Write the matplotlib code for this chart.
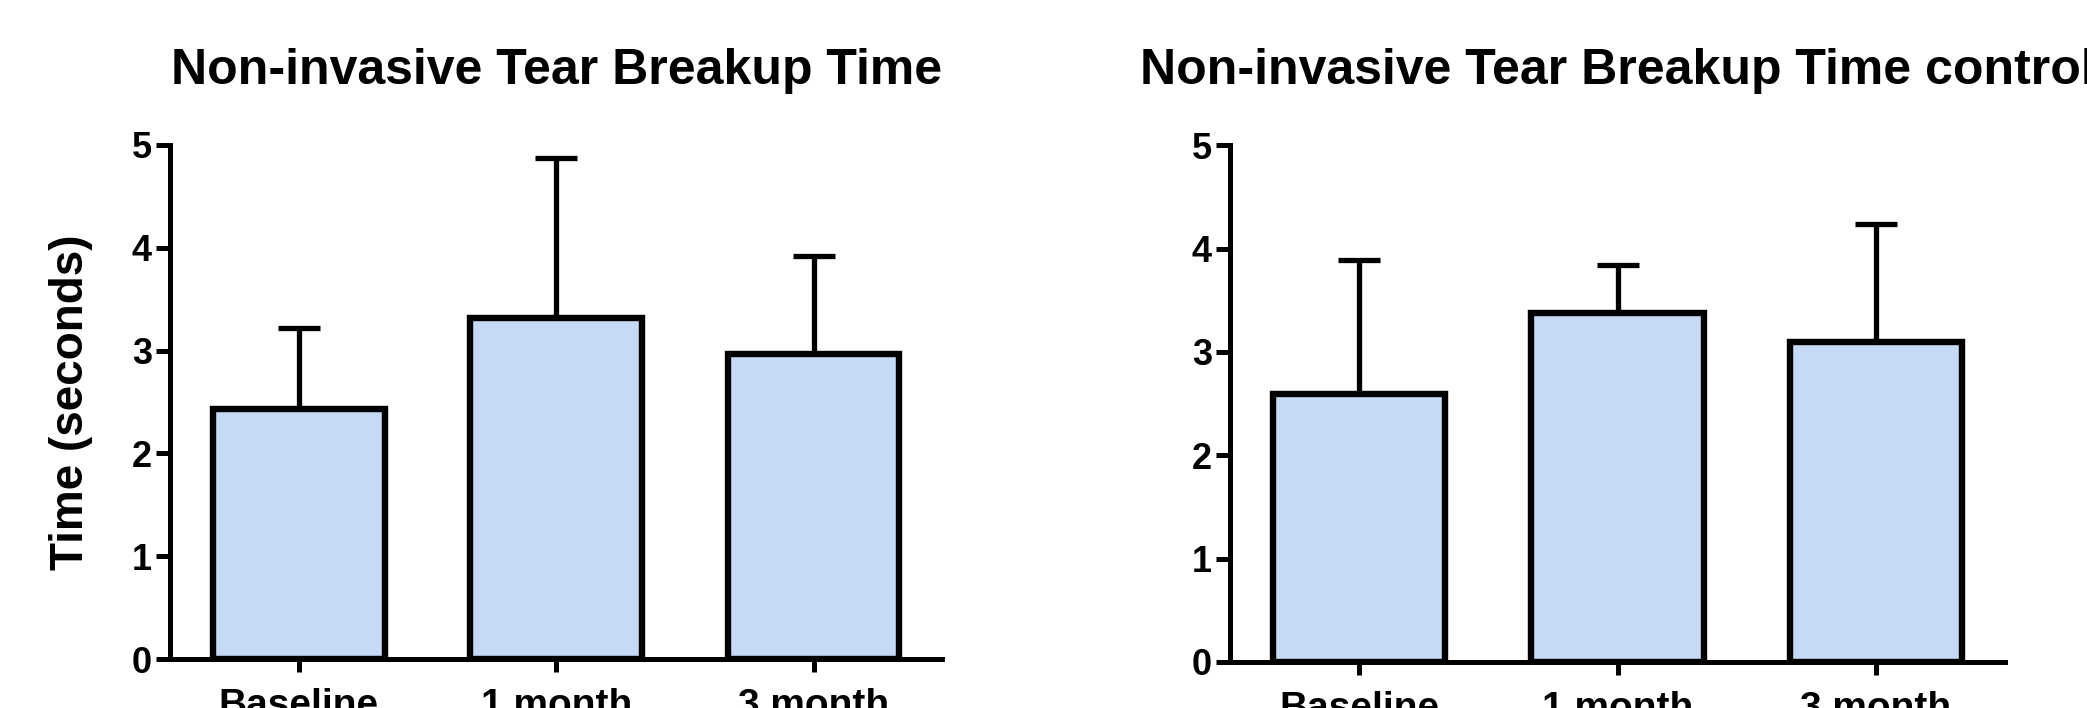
import numpy as np
import matplotlib
matplotlib.use("Agg")
import matplotlib.pyplot as plt

# ---- data ----
categories = ["Baseline", "1 month", "3 month"]
titles = ["Non-invasive Tear Breakup Time", "Non-invasive Tear Breakup Time control"]
means_treated = [2.43, 3.32, 2.97]
sd_treated = [0.79, 1.55, 0.95]
means_control = [2.59, 3.38, 3.10]
sd_control = [1.30, 0.46, 1.14]
yticks = [0, 1, 2, 3, 4, 5]

BAR = "#C6DAF5"
INK = "black"
FONT = "Liberation Sans"

plt.rcParams["font.family"] = [FONT, "DejaVu Sans"]
plt.rcParams["font.weight"] = "bold"

fig = plt.figure(figsize=(20.87, 7.08), dpi=100)
ax1 = fig.add_axes([0.0815, 0.0692, 0.370, 0.726])
ax2 = fig.add_axes([0.5894, 0.0650, 0.3713, 0.730])


def panel(ax, means, sds, title, ylabel=None):
    x = np.arange(len(categories))
    ax.bar(x, means, width=0.667, color=BAR, edgecolor=INK, linewidth=4.6, zorder=2)
    # upper error bar only (SD)
    ax.errorbar(x, means, yerr=[np.zeros(len(sds)), sds], fmt="none", ecolor=INK,
                elinewidth=3.8, capsize=15, capthick=3.8, zorder=1)
    ax.set_xlim(-0.5, 2.5)
    ax.set_ylim(0, 5)
    ax.set_yticks(yticks)
    ax.set_xticks(x)
    ax.set_xticklabels(categories, fontsize=28, fontweight="bold")
    ax.tick_params(axis="y", labelsize=26, length=10, width=3.6, pad=3)
    ax.tick_params(axis="x", length=9, width=3.6, pad=12)
    for s in ("top", "right"):
        ax.spines[s].set_visible(False)
    for s in ("left", "bottom"):
        ax.spines[s].set_linewidth(3.6)
    ax.set_title(title, fontsize=36, fontweight="bold", pad=44)
    if ylabel:
        ax.set_ylabel(ylabel, fontsize=33, fontweight="bold", labelpad=28)


panel(ax1, means_treated, sd_treated, titles[0], "Time (seconds)")
panel(ax2, means_control, sd_control, titles[1])

fig.savefig("out.png", dpi=100)
